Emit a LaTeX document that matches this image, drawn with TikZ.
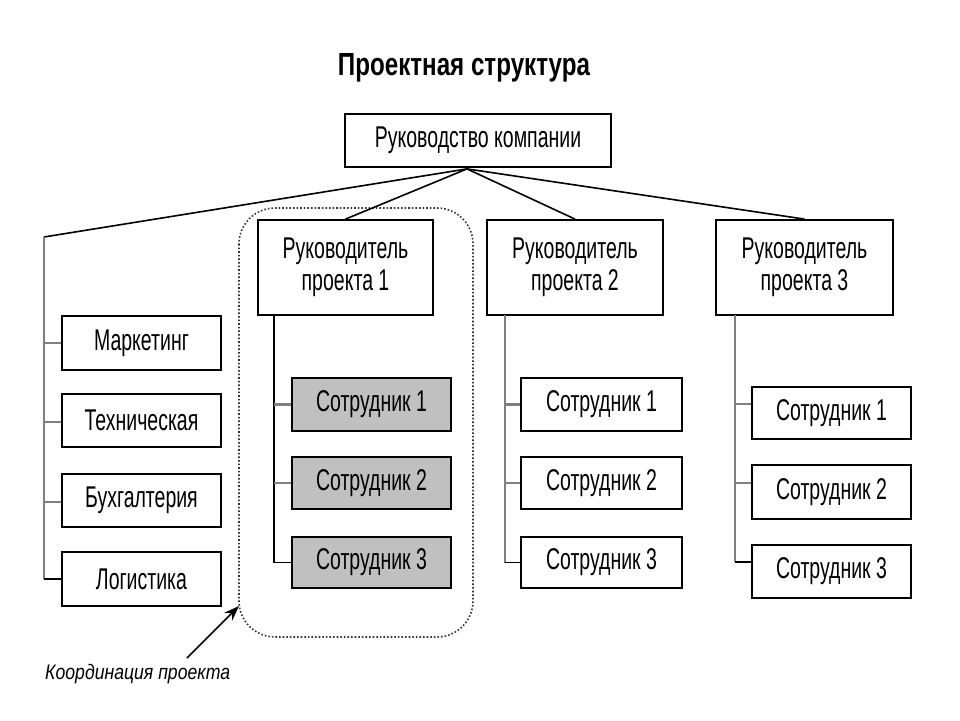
\documentclass[tikz,border=0pt]{standalone}
\usepackage{fontspec}
\setmainfont{Liberation Sans}[FakeStretch=0.65]
\newfontfamily\titlefont{Liberation Sans}[FakeStretch=0.755]
\newfontfamily\labelfont{Liberation Sans}[FakeStretch=0.84]
\usetikzlibrary{arrows.meta,calc}
\definecolor{lnk}{HTML}{808080}
\definecolor{emp}{HTML}{C0C0C0}
\tikzset{
  box/.style={draw=black, line width=1.8pt, fill=white, inner sep=0pt, align=center,
    font=\fontsize{30}{32}\selectfont},
  empbox/.style={box, fill=emp},
  trunk/.style={draw=lnk, line width=1.8pt},
  stub/.style={draw=lnk, line width=2.6pt},
  stublast/.style={draw=black, line width=1.8pt},
  topline/.style={draw=black, line width=1.6pt},
}
\begin{document}
\begin{tikzpicture}[x=1pt,y=-1pt]
\useasboundingbox (0,0) rectangle (960,720);
\fill[white] (0,0) rectangle (960,720);

\node[anchor=base, font=\fontsize{32}{36}\titlefont\bfseries] (title) at (464,75) {Проектная структура};

% dotted project frame
\draw[draw=black!80, line width=1.6pt, dotted, rounded corners=36pt] (239,208) rectangle (473,637);

\node[box, minimum width=266pt, minimum height=53pt] (top) at (478,140.5) {Руководство компании};

\node[box, minimum width=175pt, minimum height=95pt] (pm1) at (345.5,267.5) {Руководитель\\проекта 1};
\node[box, minimum width=176pt, minimum height=95pt] (pm2) at (575,267.5) {Руководитель\\проекта 2};
\node[box, minimum width=177pt, minimum height=95pt] (pm3) at (804.5,267.5) {Руководитель\\проекта 3};

\node[box, minimum width=159pt, minimum height=54pt] (mk) at (141.5,343) {Маркетинг};
\node[box, minimum width=159pt, minimum height=53pt] (th) at (141.5,420.5) {Техническая};
\node[box, minimum width=159pt, minimum height=53pt] (bu) at (141.5,500.5) {Бухгалтерия};
\node[box, minimum width=159pt, minimum height=54pt] (lo) at (141.5,579) {Логистика};

\node[empbox, minimum width=159pt, minimum height=53pt] (s11) at (371.5,404.5) {Сотрудник 1};
\node[empbox, minimum width=159pt, minimum height=52pt] (s12) at (371.5,483) {Сотрудник 2};
\node[empbox, minimum width=159pt, minimum height=51pt] (s13) at (371.5,562.5) {Сотрудник 3};

\node[box, minimum width=161pt, minimum height=53pt] (s21) at (601.5,404.5) {Сотрудник 1};
\node[box, minimum width=161pt, minimum height=52pt] (s22) at (601.5,483) {Сотрудник 2};
\node[box, minimum width=161pt, minimum height=51pt] (s23) at (601.5,562.5) {Сотрудник 3};

\node[box, minimum width=159pt, minimum height=52pt] (s31) at (831.5,413) {Сотрудник 1};
\node[box, minimum width=159pt, minimum height=54pt] (s32) at (831.5,492) {Сотрудник 2};
\node[box, minimum width=159pt, minimum height=53pt] (s33) at (831.5,571.5) {Сотрудник 3};

% connectors from the top
\coordinate (hub) at ($(top.south)+(-11,1)$);
\coordinate (lc) at (44,237);
\coordinate (lb) at (44,579);
\draw[topline] (hub) -- (pm1.north);
\draw[topline] (hub) -- (pm2.north);
\draw[topline] (hub) -- (pm3.north);
\draw[topline] (hub) -- (lc);
\draw[trunk] (lc) -- (lb);
\draw[stub] (lc |- mk.west) -- (mk.west);
\draw[stub] (lc |- th.west) ++(0,1.5) -- ($(th.west)+(0,1.5)$);
\draw[stub] (lc |- bu.west) ++(0,1.5) -- ($(bu.west)+(0,1.5)$);
\draw[stublast] (lb) -- (lo.west);

% project 1
\coordinate (t1) at (274,315);
\draw[draw=black, line width=1.4pt] (t1) -- (t1 |- s13.west);
\draw[stub] (t1 |- s11.west) -- (s11.west);
\draw[stub] (t1 |- s12.west) -- (s12.west);
\draw[stublast] (t1 |- s13.west) -- (s13.west);

% project 2
\coordinate (t2) at (505,315);
\draw[trunk] (t2) -- (t2 |- s23.west);
\draw[stub] (t2 |- s21.west) -- (s21.west);
\draw[stub] (t2 |- s22.west) -- (s22.west);
\draw[stublast] (t2 |- s23.west) -- (s23.west);

% project 3
\coordinate (t3) at (735,315);
\coordinate (t3b) at (735,562);
\draw[trunk] (t3) -- (t3b);
\draw[stub] (735,404) -- ($(s31.west)+(0,-9)$);
\draw[stub] (735,483) -- ($(s32.west)+(0,-9)$);
\draw[stublast] (t3b) -- ($(s33.west)+(0,-9.5)$);

% coordination label
\node[anchor=base west, inner sep=0pt, font=\fontsize{21}{24}\labelfont\itshape] (coord) at (45,679) {Координация проекта};
\coordinate (arrS) at (187,658);
\coordinate (arrT) at (239,606);
\draw[line width=1.5pt, -{Stealth[length=15pt,width=11pt]}] (arrS) -- (arrT);
\end{tikzpicture}
\end{document}
